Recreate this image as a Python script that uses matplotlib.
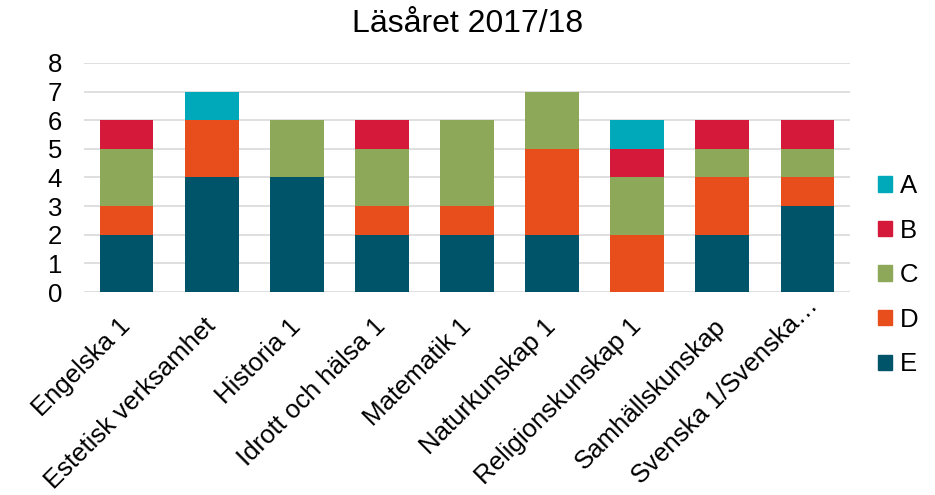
import numpy as np
import matplotlib.pyplot as plt
from matplotlib.patches import Patch
from matplotlib.transforms import ScaledTranslation

plt.rcParams['font.family'] = ['Liberation Sans', 'DejaVu Sans']

courses = ["Engelska 1", "Estetisk verksamhet", "Historia 1", "Idrott och hälsa 1",
           "Matematik 1", "Naturkunskap 1", "Religionskunskap 1", "Samhällskunskap",
           "Svenska 1/Svenska…"]
grade_e = [2, 4, 4, 2, 2, 2, 0, 2, 3]
grade_d = [1, 2, 0, 1, 1, 3, 2, 2, 1]
grade_c = [2, 0, 2, 2, 3, 2, 2, 1, 1]
grade_b = [1, 0, 0, 1, 0, 0, 1, 1, 1]
grade_a = [0, 1, 0, 0, 0, 0, 1, 0, 0]

series = [("E", grade_e, "#00546A"), ("D", grade_d, "#E84E1C"),
          ("C", grade_c, "#8EA85A"), ("B", grade_b, "#D4193A"),
          ("A", grade_a, "#00A9B9")]

fig = plt.figure(figsize=(9.35, 4.95), dpi=100)
ax = fig.add_axes([0.09, 0.41, 0.819, 0.463])

x = np.arange(len(courses))
bottom = np.zeros(len(courses))
for name, vals, color in series:
    ax.bar(x, vals, bottom=bottom, width=0.63, color=color, label=name, zorder=3)
    bottom += np.array(vals)

ax.set_xlim(-0.5, len(courses) - 0.5)
ax.set_ylim(0, 8)
ax.set_yticks(range(0, 9))
ax.yaxis.grid(True, color="#D9D9D9", linewidth=1.2, zorder=0)
for s in ax.spines.values():
    s.set_visible(False)
ax.tick_params(axis="both", length=0, labelsize=18.5)
ax.tick_params(axis="y", pad=16)
ax.set_xticks(x)
ax.set_xticklabels(courses, rotation=45, ha="right", va="center", rotation_mode="anchor")
ax.tick_params(axis="x", pad=22)

# the truncated last label sits a bit higher
last = ax.get_xticklabels()[-1]
last.set_transform(last.get_transform() + ScaledTranslation(0.07, 0.21, fig.dpi_scale_trans))

fig.suptitle("Läsåret 2017/18", fontsize=23, y=0.981)

handles = [Patch(color=c, label=n) for n, v, c in reversed(series)]
fig.legend(handles=handles, loc="center left", bbox_to_anchor=(0.914, 0.444),
           frameon=False, fontsize=18.5, handlelength=0.55, handleheight=0.55,
           handletextpad=0.3, labelspacing=0.8)

fig.savefig("out.png", dpi=100)
